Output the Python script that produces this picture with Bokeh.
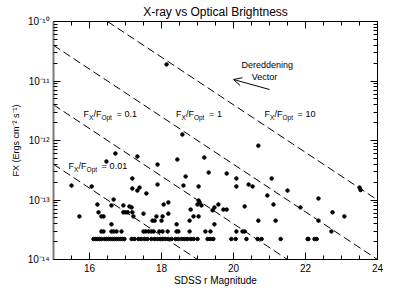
import math
from bokeh.plotting import figure
from bokeh.models import (FixedTicker, LinearAxis, LogAxis, Label, Arrow, OpenHead,
                          CustomJSTickFormatter, Range1d, ColumnDataSource)
from bokeh.embed import file_html
from bokeh.resources import INLINE

# ---------------- data ----------------
# isolated / bright sources
r_bright = [18.14, 18.58, 20.69, 23.50, 23.53]
fx_bright = [1.9e-11, 1.26e-12, 8.2e-13, 1.62e-13, 1.47e-13]

# main cloud of detections
r_cloud = [16.72, 16.47, 17.33, 18.44, 19.19, 17.89,
           19.31, 19.81, 18.67, 17.19, 20.08, 21.06,
           15.50, 16.06, 17.89, 18.61, 19.03, 17.19, 17.39, 20.08, 20.42, 20.53,
           17.33, 17.58, 21.50, 20.94, 22.36,
           16.67, 16.22, 16.61, 16.94, 18.19, 18.06, 19.03, 19.06, 19.00, 19.11,
           19.58, 19.47, 20.31, 21.11, 21.86, 17.11, 17.17,
           19.81, 18.81, 19.42, 19.72,
           16.25, 16.94, 17.00, 17.06, 17.19, 17.50, 18.19, 22.75,
           15.72, 16.33, 16.39, 17.22, 17.86, 18.03, 18.89, 19.03, 23.08,
           17.75, 17.81, 18.00, 18.78, 20.69, 21.17, 22.36,
           16.61, 18.42, 19.47]
fx_cloud = [6.05e-13, 4.44e-13, 5.38e-13, 4.79e-13, 5.18e-13, 3.95e-13,
            2.90e-13, 2.79e-13, 2.48e-13, 2.30e-13, 2.30e-13, 2.30e-13,
            1.75e-13, 1.69e-13, 1.82e-13, 1.75e-13, 1.69e-13, 1.56e-13, 1.62e-13, 1.69e-13, 1.82e-13, 1.69e-13,
            1.44e-13, 1.29e-13, 1.44e-13, 1.19e-13, 1.06e-13,
            1.02e-13, 8.4e-14, 8.1e-14, 8.1e-14, 9.1e-14, 8.4e-14, 9.8e-14, 9.1e-14, 8.4e-14, 8.1e-14,
            8.4e-14, 7.5e-14, 7.8e-14, 8.4e-14, 7.5e-14, 7.8e-14, 7.5e-14,
            6.9e-14, 6.9e-14, 6.7e-14, 6.9e-14,
            6.2e-14, 6.2e-14, 6.2e-14, 6.2e-14, 6.2e-14, 5.9e-14, 5.9e-14, 6.2e-14,
            5.3e-14, 5.3e-14, 5.3e-14, 5.3e-14, 5.3e-14, 5.3e-14, 5.3e-14, 5.3e-14, 5.3e-14,
            4.5e-14, 4.5e-14, 4.5e-14, 4.5e-14, 4.5e-14, 4.5e-14, 4.5e-14,
            3.9e-14, 3.9e-14, 3.9e-14]

# sources on the 3e-14 level
r_row3 = [16.33, 16.39, 16.61, 16.67, 16.75, 16.89, 17.50, 17.56, 17.64, 17.72, 17.78,
          17.94, 18.03, 18.17, 18.42, 18.47, 18.78, 19.22, 19.36, 20.08, 20.25, 20.31, 22.72]
fx_row3 = [2.96e-14] * len(r_row3)

# sources on the faint-limit level
r_row2 = [16.11, 16.17, 16.22, 16.28, 16.33, 16.42, 16.47, 16.53, 16.58, 16.64, 16.69,
          16.75, 16.81, 16.86, 16.92, 16.97, 17.17, 17.25, 17.36, 17.44, 17.53, 17.61,
          17.72, 17.81, 17.89, 17.97, 18.03, 18.11, 18.19, 18.28, 18.39, 18.47, 18.56,
          18.64, 18.72, 18.81, 18.89, 19.00, 19.28, 19.36, 19.44, 19.94, 20.06, 20.36,
          20.67, 20.78, 21.31, 22.06, 22.08, 22.25, 22.31]
fx_row2 = [2.21e-14] * len(r_row2)

# Fx/Fopt reference lines: log Fx = log(ratio) + zero_point - 0.4 r
ratios = [0.01, 0.1, 1, 10]
ratio_text = ["0.01", "0.1", "1", "10"]
zero_point = -4.4
r_lo = 15.0
r_hi = 24.0

x_ticks = [16, 18, 20, 22, 24]
y_ticks = [1e-14, 1e-13, 1e-12, 1e-11, 1e-10]

FONT = "Liberation Sans"

# ---------------- figure ----------------
p = figure(frame_width=324, frame_height=238, x_range=Range1d(15, 24), y_range=Range1d(1e-14, 1e-10),
           y_axis_type="log", output_backend="svg", toolbar_location=None,
           title="X-ray vs Optical Brightness",
           min_border_left=53, min_border_right=17, min_border_top=19, min_border_bottom=34)
p.background_fill_color = "white"
p.border_fill_color = "white"
p.outline_line_color = "black"
p.grid.visible = False
p.title.align = "center"
p.title.text_font = FONT
p.title.text_font_size = "12px"
p.title.text_font_style = "normal"
p.title.text_color = "black"
p.title.standoff = 5
p.title.offset = 0

xt = FixedTicker(ticks=x_ticks, minor_ticks=[15 + 0.5 * i for i in range(19)])
yt = FixedTicker(ticks=y_ticks,
                 minor_ticks=[k * 10.0 ** e for e in range(-14, -10) for k in range(2, 10)])

sup_js = """
const e = Math.round(Math.log10(tick));
const m = {'-':'\u207b','0':'\u2070','1':'\u00b9','2':'\u00b2','3':'\u00b3','4':'\u2074',
           '5':'\u2075','6':'\u2076','7':'\u2077','8':'\u2078','9':'\u2079'};
return '10' + String(e).split('').map(c => m[c]).join('');
"""
blank = CustomJSTickFormatter(code="return '';")


def style_axis(ax):
    ax.major_tick_in = 7
    ax.major_tick_out = 0
    ax.minor_tick_in = 4
    ax.minor_tick_out = 0
    ax.major_tick_line_color = "black"
    ax.minor_tick_line_color = "black"
    ax.axis_line_color = "black"
    ax.major_label_text_font = FONT
    ax.major_label_text_font_size = "10px"
    ax.major_label_text_color = "black"
    ax.axis_label_text_font = FONT
    ax.axis_label_text_font_size = "10px"
    ax.axis_label_text_font_style = "normal"
    ax.axis_label_text_color = "black"


xa = p.xaxis[0]
xa.ticker = xt
style_axis(xa)
xa.axis_label = "SDSS r Magnitude"
xa.major_label_standoff = 4
xa.axis_label_standoff = 0

ya = p.yaxis[0]
ya.ticker = yt
ya.formatter = CustomJSTickFormatter(code=sup_js)
style_axis(ya)
ya.axis_label = "FX (Ergs cm\u207b\u00b2 s\u207b\u00b9)"
ya.axis_label_text_font_size = "9px"
ya.major_label_standoff = 4
ya.axis_label_standoff = 4
ya.axis_line_color = "#7a7a7a"
ya.axis_line_width = 2

top = LinearAxis(ticker=xt, formatter=blank)
style_axis(top)
p.add_layout(top, "above")
right = LogAxis(ticker=yt, formatter=blank)
style_axis(right)
p.add_layout(right, "right")
for ax in (top, right):
    ax.major_label_text_font_size = "0px"
    ax.major_label_standoff = 0
    ax.axis_label_standoff = 0

# reference lines
for ratio in ratios:
    start = max(r_lo, (math.log10(ratio) + zero_point + 10.0) / 0.4)
    xs = [start, r_hi]
    ys = [10 ** (math.log10(ratio) + zero_point - 0.4 * v) for v in xs]
    p.line(xs, ys, line_color="black", line_width=1, line_dash="8 4")

# points
r_all = r_bright + r_cloud + r_row3 + r_row2
fx_all = fx_bright + fx_cloud + fx_row3 + fx_row2
src = ColumnDataSource(dict(r=r_all, fx=fx_all))
p.scatter("r", "fx", source=src, size=3.5, color="black", marker="circle")

# ratio labels
label_pos = [(15.42, 3.66e-13), (15.83, 2.74e-12), (18.40, 2.74e-12), (20.86, 2.74e-12)]


def lab(x, y, text, dx, dy=0, size="9px", align="left"):
    p.add_layout(Label(x=x, y=y, text=text, x_offset=dx, y_offset=dy,
                       text_font=FONT, text_font_size=size, text_color="black",
                       text_baseline="middle", text_align=align))


for (lx, ly), t in zip(label_pos, ratio_text):
    lab(lx, ly, "F", 0)
    lab(lx, ly, "X", 5.5, -3, "6.5px")
    lab(lx, ly, "/F", 10)
    lab(lx, ly, "Opt", 18, -3, "6.5px")
    lab(lx, ly, "=", 33)
    lab(lx, ly, t, 41)

# dereddening vector
lab(20.94, 1.89e-11, "Dereddening", 0, 0, "9px", "center")
lab(20.86, 1.15e-11, "Vector", 0, 0, "9px", "center")
p.add_layout(Arrow(end=OpenHead(size=8, line_width=1, line_color="black"),
                   x_start=21.0, y_start=7.2e-12, x_end=20.0, y_end=1.06e-11,
                   line_color="black", line_width=1))

open("out.html", "w").write(file_html(p, INLINE))
